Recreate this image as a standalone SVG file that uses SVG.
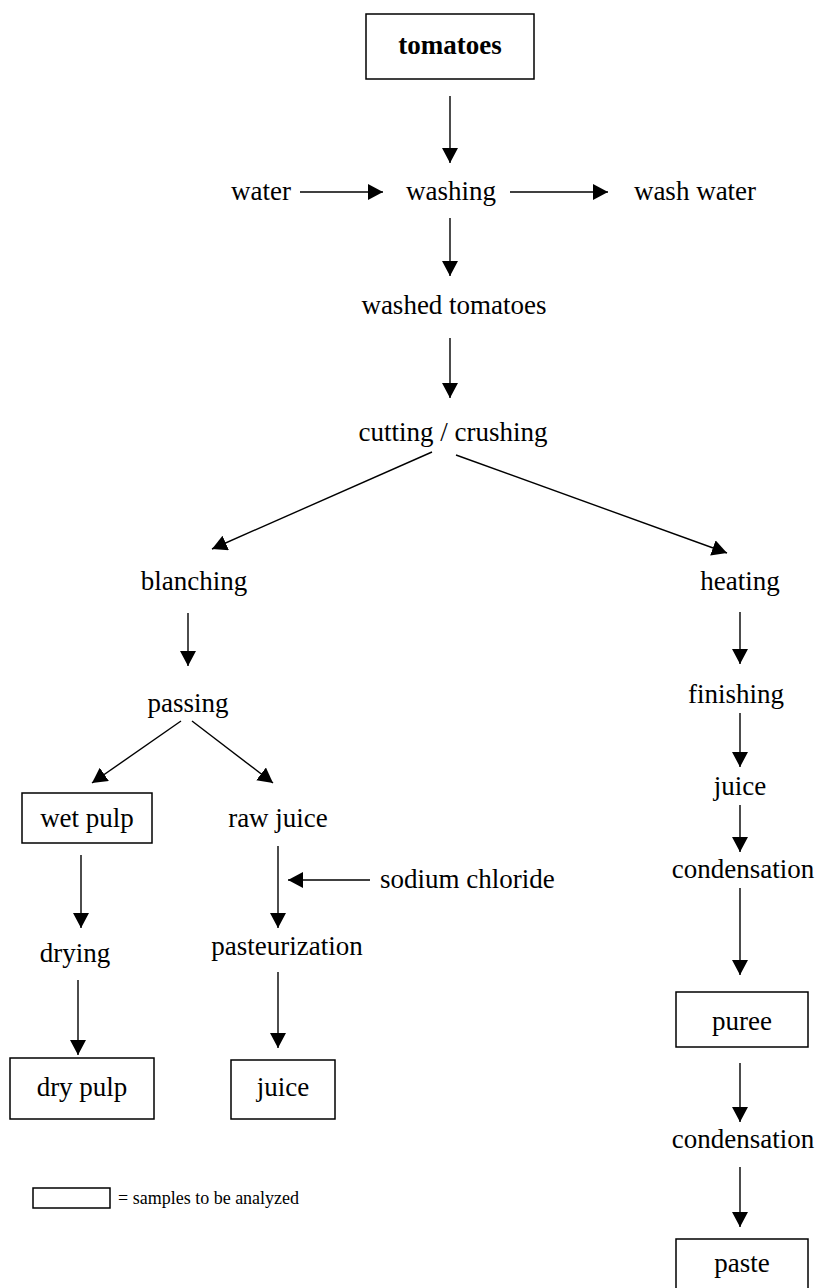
<svg xmlns="http://www.w3.org/2000/svg" width="818" height="1288" viewBox="0 0 818 1288" font-family="'Liberation Serif', 'Times New Roman', serif">
  <style>
    text { font-family: 'Liberation Serif', 'Times New Roman', serif; fill: #000; }
    .t { font-size: 27px; text-anchor: middle; }
    .b { font-weight: bold; }
    .box { fill: #fff; stroke: #000; stroke-width: 1.5; }
    .c line { stroke: #000; stroke-width: 1.4; marker-end: url(#ah); }
    .legend { font-size: 18px; }
  </style>
  <defs>
    <marker id="ah" markerUnits="userSpaceOnUse" markerWidth="16" markerHeight="17" refX="15" refY="8" orient="auto">
      <path d="M0,0 L15,8 L0,16 z" fill="#000"/>
    </marker>
  </defs>
  <rect width="818" height="1288" fill="#fff"/>

  <!-- connectors -->
  <g id="connectors" class="c">
    <line x1="450" y1="96" x2="450" y2="163"/>
    <line x1="300" y1="192" x2="383" y2="192"/>
    <line x1="510" y1="192" x2="608" y2="192"/>
    <line x1="450" y1="218" x2="450" y2="276"/>
    <line x1="450" y1="338" x2="450" y2="398"/>
    <line x1="432" y1="452" x2="212" y2="549"/>
    <line x1="456" y1="455" x2="727" y2="553"/>
    <line x1="188" y1="613" x2="188" y2="666"/>
    <line x1="740" y1="612" x2="740" y2="664"/>
    <line x1="181" y1="721" x2="92" y2="783"/>
    <line x1="192" y1="721" x2="273" y2="783"/>
    <line x1="740" y1="713" x2="740" y2="767"/>
    <line x1="81" y1="855" x2="81" y2="928"/>
    <line x1="278" y1="846" x2="278" y2="928"/>
    <line x1="370" y1="880" x2="288" y2="880"/>
    <line x1="740" y1="805" x2="740" y2="852"/>
    <line x1="78" y1="980" x2="78" y2="1055"/>
    <line x1="278" y1="972" x2="278" y2="1048"/>
    <line x1="740" y1="888" x2="740" y2="975"/>
    <line x1="740" y1="1063" x2="740" y2="1122"/>
    <line x1="740" y1="1167" x2="740" y2="1227"/>
  </g>

  <g id="tomatoes">
    <rect class="box" x="366" y="14" width="168" height="65"/>
    <text class="t b" x="450" y="54">tomatoes</text>
  </g>
  <g id="water"><text class="t" x="261" y="200">water</text></g>
  <g id="washing"><text class="t" x="451" y="200">washing</text></g>
  <g id="wash-water"><text class="t" x="695" y="200">wash water</text></g>
  <g id="washed-tomatoes"><text class="t" x="454" y="314">washed tomatoes</text></g>
  <g id="cutting-crushing"><text class="t" x="453" y="441">cutting / crushing</text></g>
  <g id="blanching"><text class="t" x="194" y="590">blanching</text></g>
  <g id="heating"><text class="t" x="740" y="590">heating</text></g>
  <g id="passing"><text class="t" x="188" y="712">passing</text></g>
  <g id="finishing"><text class="t" x="736" y="703">finishing</text></g>
  <g id="juice-hot"><text class="t" x="740" y="795">juice</text></g>
  <g id="wet-pulp">
    <rect class="box" x="22" y="793" width="130" height="50"/>
    <text class="t" x="87" y="827">wet pulp</text>
  </g>
  <g id="raw-juice"><text class="t" x="278" y="827">raw juice</text></g>
  <g id="sodium-chloride"><text class="t" x="380" y="888" style="text-anchor:start">sodium chloride</text></g>
  <g id="condensation-1"><text class="t" x="743" y="878">condensation</text></g>
  <g id="drying"><text class="t" x="75" y="962">drying</text></g>
  <g id="pasteurization"><text class="t" x="287" y="955">pasteurization</text></g>
  <g id="dry-pulp">
    <rect class="box" x="10" y="1058" width="144" height="61"/>
    <text class="t" x="82" y="1096">dry pulp</text>
  </g>
  <g id="juice-cold">
    <rect class="box" x="231" y="1060" width="104" height="59"/>
    <text class="t" x="283" y="1096">juice</text>
  </g>
  <g id="puree">
    <rect class="box" x="676" y="992" width="132" height="55"/>
    <text class="t" x="742" y="1030">puree</text>
  </g>
  <g id="condensation-2"><text class="t" x="743" y="1148">condensation</text></g>
  <g id="paste">
    <rect class="box" x="676" y="1239" width="132" height="62"/>
    <text class="t" x="742" y="1272">paste</text>
  </g>

  <g id="legend">
    <rect class="box" x="33" y="1188" width="77" height="20"/>
    <text class="legend" x="118" y="1204">= samples to be analyzed</text>
  </g>
</svg>
